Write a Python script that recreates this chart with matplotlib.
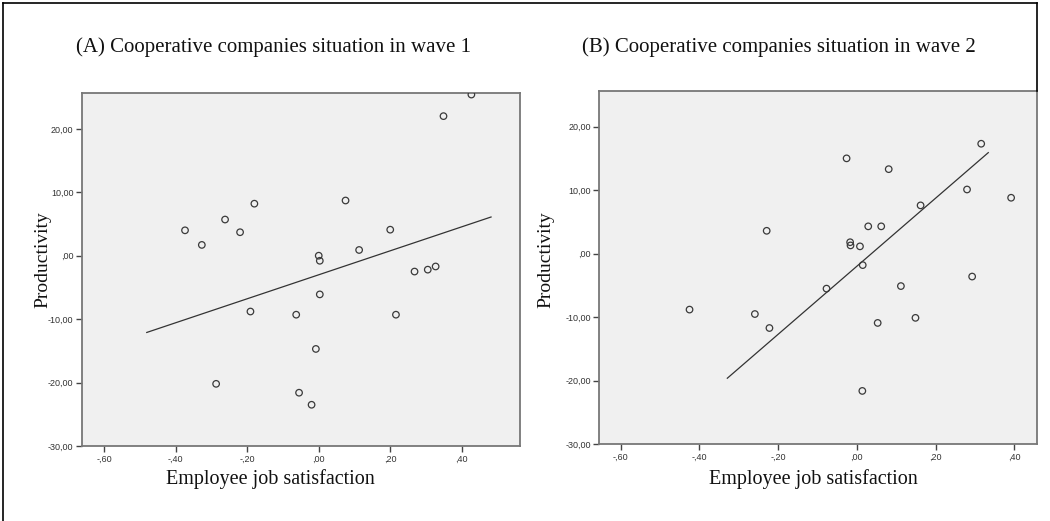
import matplotlib
matplotlib.use("Agg")
import matplotlib.pyplot as plt
from matplotlib.lines import Line2D
from matplotlib.ticker import FuncFormatter

# ---- data ----
titles = ["(A) Cooperative companies situation in wave 1",
          "(B) Cooperative companies situation in wave 2"]
x_label = "Employee job satisfaction"
y_label = "Productivity"

wave1_x = [0.427, 0.349, -0.374, -0.327, -0.262, -0.220, -0.180, 0.075, 0.200, 0.113,
           0.000, 0.003, 0.268, 0.305, 0.327, 0.003, -0.191, -0.063, 0.216, -0.008,
           -0.287, -0.055, -0.020]
wave1_y = [25.4, 22.0, 4.0, 1.7, 5.7, 3.7, 8.2, 8.7, 4.1, 0.9,
           0.0, -0.8, -2.5, -2.2, -1.7, -6.1, -8.8, -9.3, -9.3, -14.7,
           -20.2, -21.6, -23.5]
wave1_fit_x = [-0.481, 0.482]
wave1_fit_y = [-12.1, 6.1]

wave2_x = [0.316, -0.026, 0.081, 0.280, 0.392, 0.162, 0.029, 0.062, -0.229, -0.017,
           -0.016, 0.008, 0.015, 0.293, -0.077, 0.112, -0.425, -0.259, 0.149, -0.222,
           0.053, 0.014]
wave2_y = [17.3, 15.0, 13.3, 10.1, 8.8, 7.6, 4.3, 4.3, 3.6, 1.8,
           1.3, 1.15, -1.8, -3.6, -5.5, -5.1, -8.8, -9.5, -10.1, -11.7,
           -10.9, -21.6]
wave2_fit_x = [-0.329, 0.334]
wave2_fit_y = [-19.6, 15.9]

x_ticks = [-0.6, -0.4, -0.2, 0.0, 0.2, 0.4]
y_ticks = [-30, -20, -10, 0, 10, 20]


def fmt_comma(v, _pos=None):
    s = f"{v:.2f}".replace(".", ",")
    if s.startswith("0,"):
        s = s[1:]
    elif s.startswith("-0,"):
        s = "-" + s[2:]
    return s


W, H = 1050, 521
fig = plt.figure(figsize=(W / 100, H / 100), dpi=100)
fig.patch.set_facecolor("white")

serif = ["Liberation Serif", "DejaVu Serif"]
sans = ["Liberation Sans", "DejaVu Sans"]

panels = [
    dict(rect=[81.7, 93.3, 520.0, 446.0], xlim=(-0.663, 0.563),
         x=wave1_x, y=wave1_y, fx=wave1_fit_x, fy=wave1_fit_y, title=titles[0],
         title_x=274, ylabel_x=43, xlabel_x=270),
    dict(rect=[599.0, 91.0, 1036.7, 444.3], xlim=(-0.655, 0.457),
         x=wave2_x, y=wave2_y, fx=wave2_fit_x, fy=wave2_fit_y, title=titles[1],
         title_x=779, ylabel_x=546, xlabel_x=813),
]

for p in panels:
    l, t, r, b = p["rect"]
    ax = fig.add_axes([l / W, 1 - b / H, (r - l) / W, (b - t) / H])
    ax.set_facecolor("#f0f0f0")
    ax.set_xlim(*p["xlim"])
    ax.set_ylim(-30, 25.6)
    ax.scatter(p["x"], p["y"], s=22, facecolors="none", edgecolors="#3a3a3a",
               linewidths=0.9, zorder=3)
    ax.plot(p["fx"], p["fy"], color="#333333", lw=0.9, zorder=2)
    ax.set_xticks(x_ticks)
    ax.set_yticks(y_ticks)
    ax.xaxis.set_major_formatter(FuncFormatter(fmt_comma))
    ax.yaxis.set_major_formatter(FuncFormatter(fmt_comma))
    ax.tick_params(axis="both", direction="out", length=4, width=1.0,
                   color="#444444", labelsize=6.5, labelcolor="#333333", pad=2)
    for lab in ax.get_xticklabels() + ax.get_yticklabels():
        lab.set_fontfamily(sans)
    for sp in ax.spines.values():
        sp.set_color("#777777")
        sp.set_linewidth(1.3)
    # title, labels as figure text
    fig.text(p["title_x"] / W, 1 - 47 / H, p["title"], ha="center", va="center",
             fontsize=15, family=serif, color="#111111")
    fig.text(p["ylabel_x"] / W, 1 - 260 / H, y_label, ha="center", va="center",
             rotation=90, fontsize=14, family=serif, color="#111111")
    fig.text(p["xlabel_x"] / W, 1 - 479 / H, x_label, ha="center", va="center",
             fontsize=14.5, family=serif, color="#111111")

# outer frame (left, top, right)
fx0, fx1, fy0 = 3 / W, 1036.5 / W, 1 - 3 / H
fig.add_artist(Line2D([fx0, fx0], [0, fy0], color="black", lw=1.2, transform=fig.transFigure))
fig.add_artist(Line2D([fx0, fx1], [fy0, fy0], color="black", lw=1.2, transform=fig.transFigure))
fig.add_artist(Line2D([fx1, fx1], [1 - 91 / H, fy0], color="black", lw=1.2, transform=fig.transFigure))

fig.savefig("out.png", dpi=100, facecolor="white")
